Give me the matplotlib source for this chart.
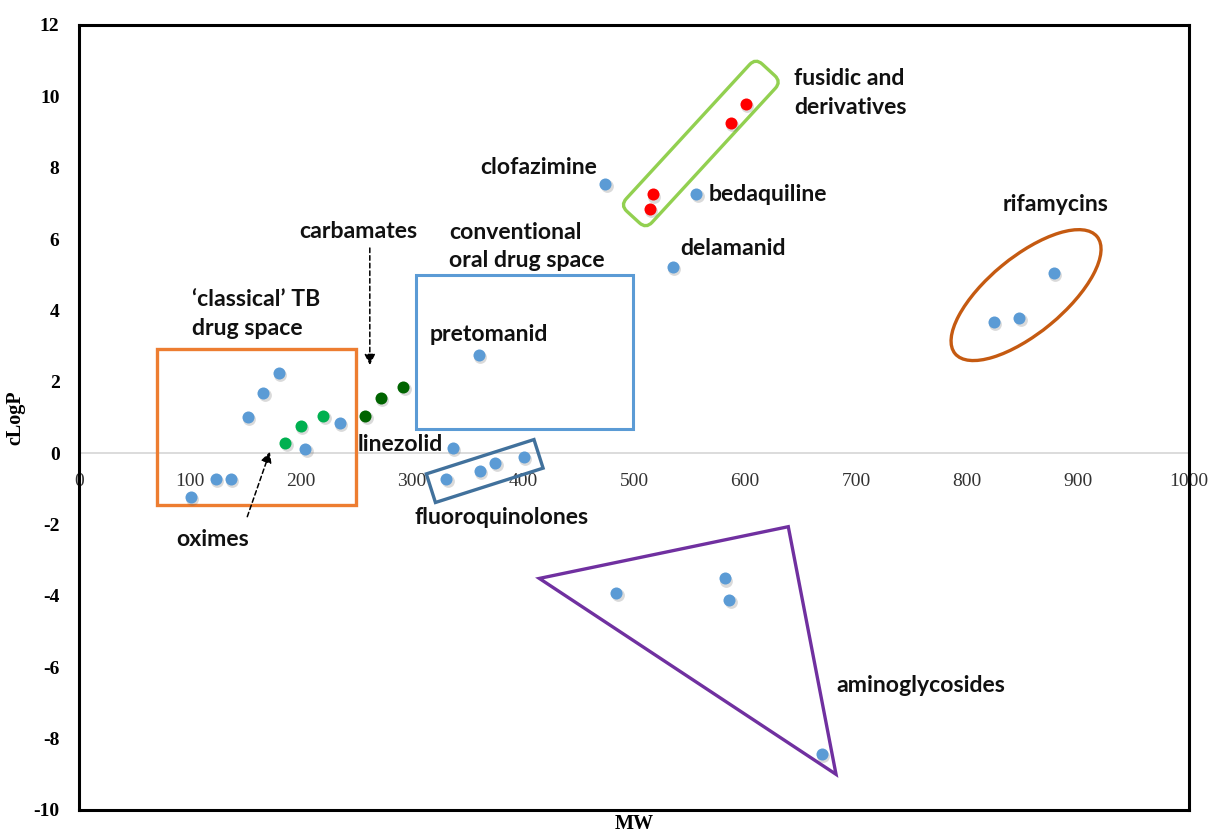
import matplotlib
matplotlib.use("Agg")
import matplotlib.pyplot as plt
import matplotlib.transforms as mtransforms
from matplotlib.patches import Rectangle, Polygon, Ellipse, FancyBboxPatch

# ---- data (MW, cLogP) ----
blue_mw = [101, 123, 137, 152, 166, 180, 204, 235,
           337, 331, 361, 375, 401, 360,
           474, 556, 535, 824, 847, 878,
           484, 582, 586, 669]
blue_clogp = [-1.23, -0.72, -0.72, 1.02, 1.70, 2.24, 0.11, 0.85,
              0.14, -0.73, -0.49, -0.27, -0.10, 2.75,
              7.54, 7.26, 5.23, 3.69, 3.80, 5.06,
              -3.93, -3.51, -4.11, -8.43]

oxime_mw = [186, 200, 220]
oxime_clogp = [0.28, 0.76, 1.05]

carbamate_mw = [258, 272, 292]
carbamate_clogp = [1.04, 1.54, 1.86]

fusidic_mw = [601, 587, 517, 514]
fusidic_clogp = [9.79, 9.25, 7.25, 6.85]

x_ticks = [0, 100, 200, 300, 400, 500, 600, 700, 800, 900, 1000]
y_ticks = [-10, -8, -6, -4, -2, 0, 2, 4, 6, 8, 10, 12]

label_font = "Lato"
tick_font = "Liberation Serif"

fig = plt.figure(figsize=(12.1, 8.34), dpi=100)
ax = fig.add_axes([79 / 1210, 1 - 810 / 834, (1189 - 79) / 1210, (810 - 25) / 834])
ax.set_xlim(0, 1000)
ax.set_ylim(-10, 12)

for s in ax.spines.values():
    s.set_linewidth(2.2)
    s.set_color("black")

ax.set_xticks([])
ax.set_yticks(y_ticks)
ax.set_yticklabels([str(t) for t in y_ticks], fontfamily=tick_font,
                   fontweight="bold", fontsize=14)
ax.tick_params(axis="y", length=0, pad=14)
ax.set_ylabel("cLogP", fontfamily=tick_font, fontweight="bold", fontsize=14.5, labelpad=6)
ax.set_xlabel("MW", fontfamily=tick_font, fontweight="bold", fontsize=14.5, labelpad=3)

# x tick labels sit along the zero line
sec = ax.secondary_xaxis(10 / 22)
sec.set_xticks(x_ticks)
sec.set_xticklabels([str(t) for t in x_ticks], fontfamily=tick_font, fontsize=14,
                    color="#333333")
sec.tick_params(length=0, pad=14)
sec.spines["bottom"].set_visible(False)
ax.axhline(0, color="#d9d9d9", lw=1.3, zorder=0)

# ---- points with a soft shadow ----
shadow = ax.transData + mtransforms.ScaledTranslation(1 / 72, -1.5 / 72, fig.dpi_scale_trans)
groups = [(blue_mw, blue_clogp, "#5b9bd5"),
          (oxime_mw, oxime_clogp, "#00b050"),
          (carbamate_mw, carbamate_clogp, "#006400"),
          (fusidic_mw, fusidic_clogp, "#ff0000")]
for xs, ys, c in groups:
    ax.scatter(xs, ys, s=85, color="#595959", alpha=0.22, lw=0, transform=shadow, zorder=3)
    ax.scatter(xs, ys, s=75, color=c, lw=0, zorder=4)


def px_frame(cx, cy, angle=0):
    # shape drawn in pixel units, rotated, centred on a data point
    return mtransforms.Affine2D().rotate_deg(angle) + \
        mtransforms.ScaledTranslation(cx, cy, ax.transData)


# ---- group outlines ----
ax.add_patch(Rectangle((70, -1.44), 179.5, 4.35, fill=False, ec="#ed7d31", lw=2.4, zorder=2))
ax.add_patch(Rectangle((303.5, 0.68), 196, 4.32, fill=False, ec="#5b9bd5", lw=2.2, zorder=2))
ax.add_patch(Polygon([(414.7, -3.51), (639, -2.06), (682, -9.0)], closed=True,
                     fill=False, ec="#7030a0", lw=2.4, zorder=2))
ax.add_patch(Rectangle((-56.5, -15), 113, 30, fill=False, ec="#41719c", lw=2.4,
                       transform=px_frame(365.5, -0.50, 17.7), zorder=2))
ax.add_patch(FancyBboxPatch((-100, -17.5), 200, 35, boxstyle="round,pad=0,rounding_size=9",
                            fill=False, ec="#92d050", lw=2.4,
                            transform=px_frame(560.2, 8.68, 47.4), zorder=2))
ax.add_patch(Ellipse((0, 0), 184, 76, angle=39.5, fill=False, ec="#c55a11", lw=2.4,
                     transform=px_frame(853.2, 4.43), zorder=2))

# ---- arrows ----
arrow_kw = dict(arrowstyle="-|>", color="black", lw=1.1, linestyle=(0, (3, 2)),
                mutation_scale=16, shrinkA=0, shrinkB=0)
ax.annotate("", xy=(262, 2.47), xytext=(262, 5.75), arrowprops=arrow_kw)
ax.annotate("", xy=(172, 0.04), xytext=(151.6, -1.78), arrowprops=arrow_kw)

# ---- labels ----
tkw = dict(fontfamily=label_font, fontweight="bold", fontsize=16.6, color="#111111",
           va="center", linespacing=1.45)
ax.text(644, 10.1, "fusidic and\nderivatives", ha="left", **tkw)
ax.text(466.7, 8.0, "clofazimine", ha="right", **tkw)
ax.text(567.6, 7.26, "bedaquiline", ha="left", **tkw)
ax.text(880, 6.96, "rifamycins", ha="center", **tkw)
ax.text(542, 5.75, "delamanid", ha="left", **tkw)
ax.text(198, 6.2, "carbamates", ha="left", **tkw)
ax.text(333.6, 5.79, "conventional\noral drug space", ha="left", **tkw)
ax.text(101.5, 3.9, "\u2018classical\u2019 TB\ndrug space", ha="left", **tkw)
ax.text(315.6, 3.34, "pretomanid", ha="left", **tkw)
ax.text(327.6, 0.23, "linezolid", ha="right", **tkw)
ax.text(302.7, -1.80, "fluoroquinolones", ha="left", **tkw)
ax.text(87.4, -2.43, "oximes", ha="left", **tkw)
ax.text(682, -6.52, "aminoglycosides", ha="left", **tkw)

fig.savefig("out.png", dpi=100)
